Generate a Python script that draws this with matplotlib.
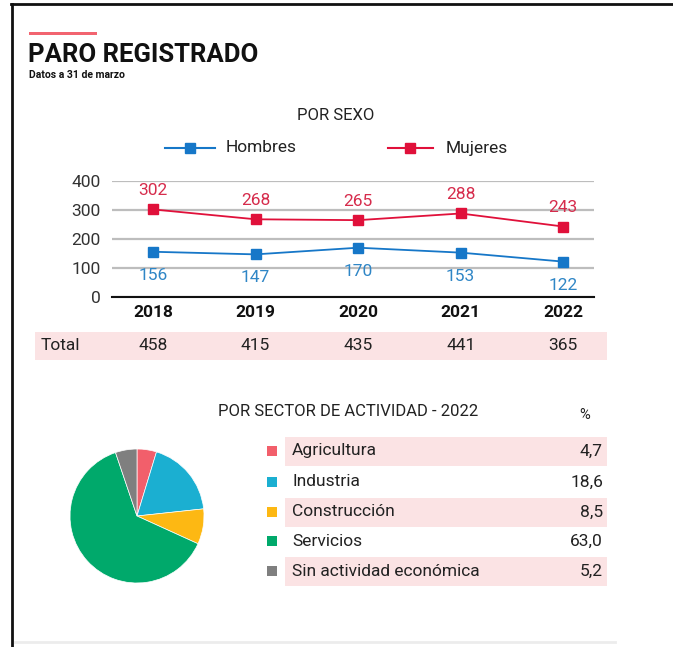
import matplotlib.pyplot as plt
from matplotlib.lines import Line2D
from matplotlib.patches import Rectangle
import matplotlib.transforms as mtransforms

plt.rcParams['font.family'] = ['Roboto', 'DejaVu Sans']

years = ['2018', '2019', '2020', '2021', '2022']
hombres = [156, 147, 170, 153, 122]
mujeres = [302, 268, 265, 288, 243]
totales = [458, 415, 435, 441, 365]

sectores = ['Agricultura', 'Industria', 'Construcción', 'Servicios', 'Sin actividad económica']
porcentajes = [4.7, 18.6, 8.5, 63.0, 5.2]
etiquetas_pct = ['4,7', '18,6', '8,5', '63,0', '5,2']
colores_sector = ['#f25f6b', '#1bafd1', '#fdb813', '#00a96b', '#7f7f7f']

c_h = '#1677c8'
c_m = '#e0103a'
c_h_txt = '#2f86c6'
c_m_txt = '#d62c4c'
pink = '#fbe3e4'
dark = '#222222'

W, H = 673, 647
fig = plt.figure(figsize=(W / 100, H / 100), dpi=100)


def fx(px):
    return px / W


def fy(py):
    return 1 - py / H


# frame
fig.add_artist(Line2D([fx(11), fx(673)], [fy(4), fy(4)], color='#111111', lw=2))
fig.add_artist(Line2D([fx(12), fx(12)], [fy(4), fy(647)], color='#111111', lw=2))
fig.add_artist(Line2D([fx(15), fx(615)], [fy(642), fy(642)], color='#ececec', lw=2))

# header
fig.add_artist(Rectangle((fx(29), fy(35)), fx(68), 3 / H, color='#f26470', lw=0))
fig.text(fx(28), fy(55), 'PARO REGISTRADO', fontsize=18.5, fontweight='bold',
         va='center', ha='left', color='#111111')
fig.text(fx(29), fy(75), 'Datos a 31 de marzo', fontsize=7.5, fontweight='bold',
         va='center', ha='left', color='#111111')

# line chart
fig.text(fx(336), fy(116), 'POR SEXO', fontsize=12, ha='center', va='center', color=dark)
fig.add_artist(Line2D([fx(165), fx(190), fx(215)], [fy(148)] * 3, color=c_h, lw=1.5,
                      marker='s', markevery=[1], ms=7))
fig.add_artist(Line2D([fx(388), fx(410), fx(433)], [fy(148)] * 3, color=c_m, lw=1.5,
                      marker='s', markevery=[1], ms=7))
fig.text(fx(226), fy(148), 'Hombres', fontsize=12.5, va='center', ha='left', color=dark)
fig.text(fx(446), fy(148), 'Mujeres', fontsize=12.5, va='center', ha='left', color=dark)

ax = fig.add_axes([fx(112), fy(297), fx(594) - fx(112), fy(181) - fy(297)])
x = list(range(len(years)))
ax.plot(x, mujeres, color=c_m, lw=1.3, marker='s', ms=7, clip_on=False, zorder=3)
ax.plot(x, hombres, color=c_h, lw=1.3, marker='s', ms=7, clip_on=False, zorder=3)
for i in x:
    ax.text(i, mujeres[i] + 40, str(mujeres[i]), ha='center', va='bottom', fontsize=12.5, color=c_m_txt)
    ax.text(i, hombres[i] - 55, str(hombres[i]), ha='center', va='top', fontsize=12.5, color=c_h_txt)
ax.set_xlim(-0.4, 4.3)
ax.set_ylim(0, 400)
ax.set_yticks([0, 100, 200, 300, 400])
ax.set_xticks(x)
ax.set_xticklabels(years, fontweight='bold', fontsize=12.5, color='#111111')
ax.tick_params(axis='both', length=0, labelsize=12.5, colors='#333333')
ax.tick_params(axis='x', pad=6, labelcolor='#111111')
ax.tick_params(axis='y', pad=8)
for lbl in ax.get_xticklabels():
    lbl.set_fontweight('bold')
ax.grid(axis='y', color='#bdbdbd', lw=1.6)
ax.set_axisbelow(True)
for s in ['top', 'right', 'left']:
    ax.spines[s].set_visible(False)
ax.spines['bottom'].set_color('#111111')
ax.spines['bottom'].set_linewidth(1.5)
ax.set_facecolor('none')

# totals row
fig.add_artist(Rectangle((fx(35), fy(360)), fx(607) - fx(35), 28 / H, color=pink, lw=0, zorder=0))
fig.text(fx(41), fy(346), 'Total', fontsize=12.5, va='center', ha='left', color=dark)
blend = mtransforms.blended_transform_factory(ax.transData, fig.transFigure)
for i in x:
    fig.text(i, fy(346), str(totales[i]), transform=blend, fontsize=12.5,
             ha='center', va='center', color=dark)

# pie
pax = fig.add_axes([fx(70), fy(583), fx(134), 134 / H])
pax.pie(porcentajes, colors=colores_sector, startangle=90, counterclock=False,
        wedgeprops=dict(linewidth=0.5, edgecolor='white'))
pax.set_xlim(-1, 1)
pax.set_ylim(-1, 1)
pax.set_aspect('equal')

fig.text(fx(218), fy(412), 'POR SECTOR DE ACTIVIDAD - 2022', fontsize=12, va='center', ha='left', color=dark)
fig.text(fx(585), fy(415), '%', fontsize=10.5, va='center', ha='center', color=dark)
row_y = [451, 482, 512, 541, 571]
for k, (nom, pct, col) in enumerate(zip(sectores, etiquetas_pct, colores_sector)):
    yy = row_y[k]
    if k % 2 == 0:
        fig.add_artist(Rectangle((fx(285), fy(yy + 15)), fx(607) - fx(285), 29 / H,
                                 color=pink, lw=0, zorder=0))
    fig.add_artist(Rectangle((fx(267), fy(yy + 5)), fx(10), 10 / H, color=col, lw=0))
    fig.text(fx(292), fy(yy), nom, fontsize=12.5, va='center', ha='left', color=dark)
    fig.text(fx(603), fy(yy), pct, fontsize=12.5, va='center', ha='right', color=dark)

fig.savefig('out.png', dpi=100, facecolor='white')
